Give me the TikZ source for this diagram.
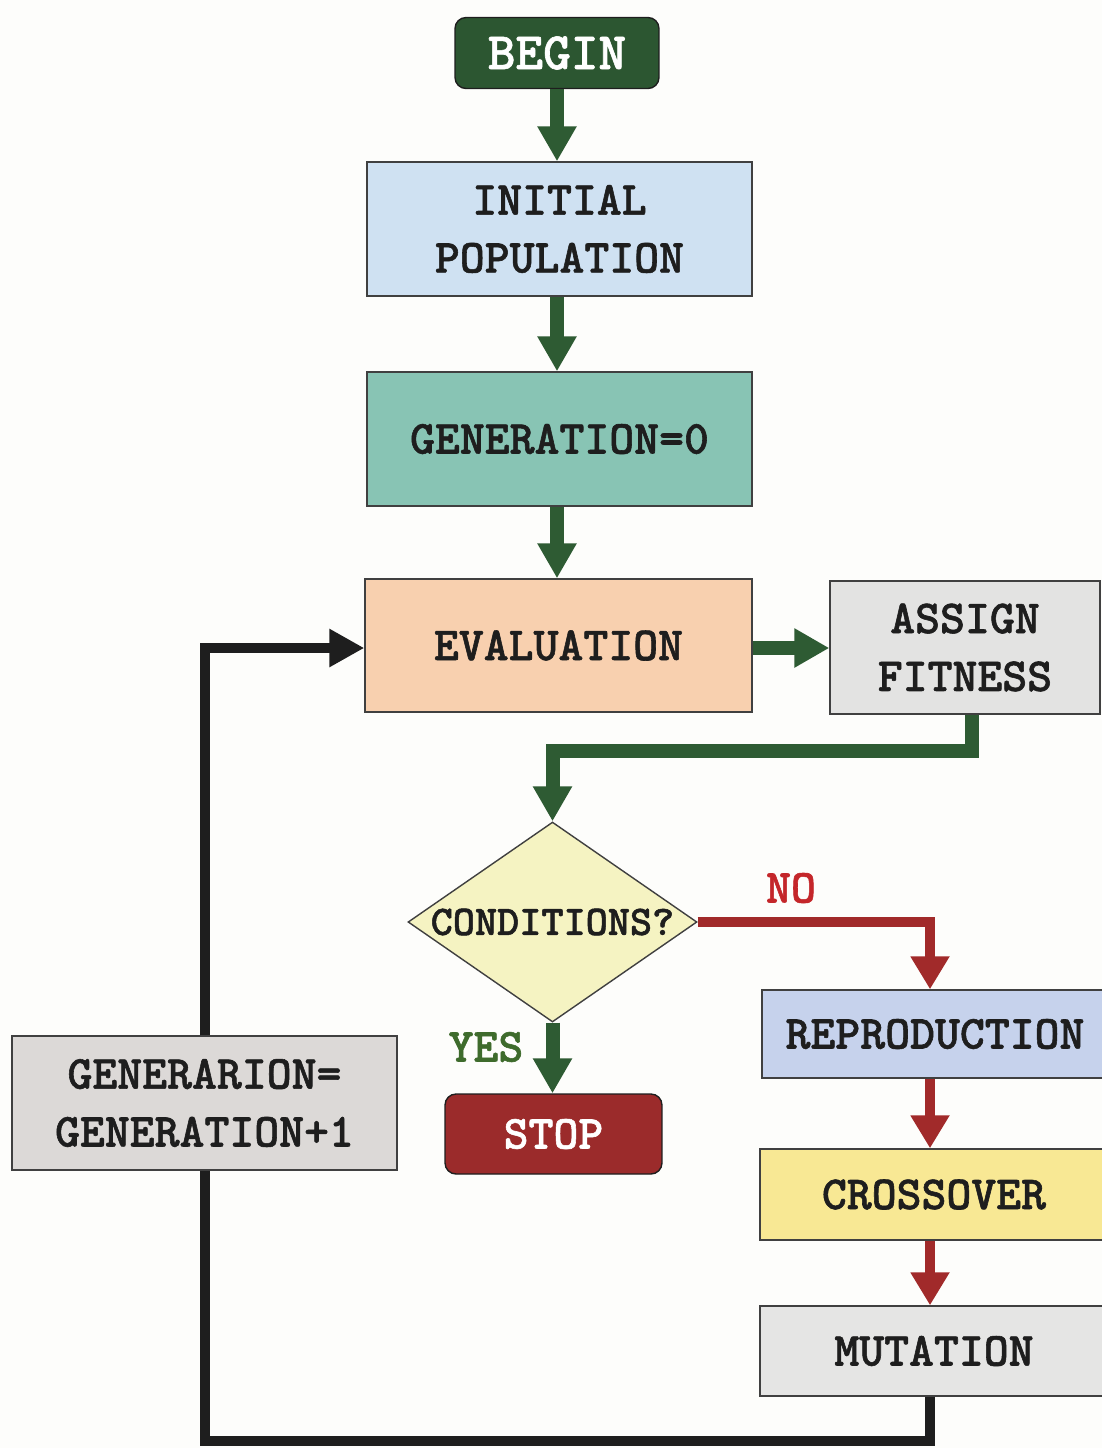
\documentclass[tikz,border=0pt]{standalone}
\usepackage{fontspec}
\usetikzlibrary{arrows.meta,shapes.geometric}

% heavy typewriter face for all labels
\newfontfamily\flowtt{lmmonolt10-bold.otf}[FakeBold=1.2]

% palette
\definecolor{bg}{HTML}{FDFDFB}
\definecolor{ink}{HTML}{1E1E1E}
\definecolor{flowgreen}{HTML}{2E5B33}
\definecolor{flowred}{HTML}{A12A2A}
\definecolor{beginfill}{HTML}{2C5631}
\definecolor{initfill}{HTML}{CFE1F2}
\definecolor{genfill}{HTML}{88C4B4}
\definecolor{evalfill}{HTML}{F8D0AF}
\definecolor{assignfill}{HTML}{E3E3E2}
\definecolor{condfill}{HTML}{F5F3C2}
\definecolor{stopfill}{HTML}{9B2B2B}
\definecolor{incfill}{HTML}{DCD9D7}
\definecolor{reprofill}{HTML}{C6D2EC}
\definecolor{crossfill}{HTML}{F8E894}
\definecolor{mutfill}{HTML}{E5E5E4}
\definecolor{nored}{HTML}{C4262A}
\definecolor{yesgreen}{HTML}{3E6B2C}

\newcommand\flowfont[1]{\fontsize{#1}{1.22\dimexpr#1pt\relax}\selectfont\flowtt}

\tikzset{
  box/.style={rectangle, draw=ink!85, line width=0.8pt, inner sep=0pt,
    align=center, text=ink, font=\flowfont{27}},
  terminal/.style={box, rounded corners=0.22cm, draw=ink},
  greenflow/.style={draw=flowgreen, line width=0.28cm,
    -{Triangle[width=0.74cm,length=0.7cm]}},
  redflow/.style={draw=flowred, line width=0.21cm,
    -{Triangle[width=0.74cm,length=0.66cm]}},
  loopline/.style={draw=ink, line width=0.2cm},
  looparrow/.style={loopline, -{Triangle[width=0.72cm,length=0.7cm]}},
}

\begin{document}
\begin{tikzpicture}[x=0.02cm, y=-0.02cm]
  \useasboundingbox (0,0) rectangle (1102,1448);
  \fill[bg] (0,0) rectangle (1102,1448);

  % main column
  \node[terminal, fill=beginfill, text=white, font=\flowfont{30},
        minimum width=4.08cm, minimum height=1.42cm] (begin) at (557,53) {BEGIN};
  \node[box, fill=initfill, minimum width=7.7cm, minimum height=2.68cm]
        (init) at (559.5,229) {INITIAL\\POPULATION};
  \node[box, fill=genfill, minimum width=7.7cm, minimum height=2.68cm]
        (gen0) at (559.5,439) {GENERATION=0};
  \node[box, fill=evalfill, minimum width=7.74cm, minimum height=2.66cm]
        (eval) at (558.5,645.5) {EVALUATION};
  \node[box, fill=assignfill, minimum width=5.4cm, minimum height=2.66cm]
        (assign) at (965,647.5) {ASSIGN\\FITNESS};

  % decision
  \node[diamond, draw=ink!85, line width=0.8pt, fill=condfill, inner sep=0pt,
        minimum width=5.78cm, minimum height=4cm] (cond) at (552.5,922) {};
  \node[text=ink, font=\flowfont{24}] (condtext) at (cond.center) {CONDITIONS?};

  \node[terminal, fill=stopfill, text=white, minimum width=4.34cm,
        minimum height=1.6cm] (stop) at (553.5,1134) {STOP};
  \node[box, fill=incfill, minimum width=7.7cm, minimum height=2.68cm]
        (genp1) at (204.5,1103) {GENERARION=\\GENERATION+1};

  % genetic operators
  \node[box, fill=reprofill, minimum width=6.92cm, minimum height=1.76cm]
        (repro) at (935,1034) {REPRODUCTION};
  \node[box, fill=crossfill, minimum width=6.96cm, minimum height=1.82cm]
        (cross) at (934,1194.5) {CROSSOVER};
  \node[box, fill=mutfill, minimum width=6.96cm, minimum height=1.8cm]
        (mut) at (934,1351) {MUTATION};

  % branch labels
  \node[text=nored, font=\flowfont{27}] (nolabel) at (791,888) {NO};
  \node[text=yesgreen, font=\flowfont{27}] (yeslabel) at (486,1047) {YES};

  % bends
  \coordinate (fitbend) at (cond.north |- 0,751);
  \coordinate (loopcorner) at (genp1.south |- 0,1441);

  % green flow
  \draw[greenflow] (begin.south) -- (begin.south |- init.north);
  \draw[greenflow] (init.south -| begin.south) -- (gen0.north -| begin.south);
  \draw[greenflow] (gen0.south -| begin.south) -- (eval.north -| begin.south);
  \draw[greenflow] (eval.east |- 0,648) -- (assign.west |- 0,648);
  \draw[greenflow] ([xshift=0.14cm]assign.south) |- (fitbend) -- (cond.north);
  \draw[greenflow] (cond.south) -- (cond.south |- stop.north);

  % red flow
  \draw[redflow] (cond.east) -| ([xshift=-0.1cm]repro.north);
  \draw[redflow] ([xshift=-0.1cm]repro.south) -- ([xshift=-0.1cm]repro.south |- cross.north);
  \draw[redflow] ([xshift=-0.1cm]repro.south |- cross.south) -- ([xshift=-0.1cm]repro.south |- mut.north);

  % feedback loop
  \draw[loopline] ([xshift=-0.08cm]mut.south) |- (loopcorner) -- (genp1.south);
  \draw[looparrow] (genp1.north) |- (eval.west |- 0,648);
\end{tikzpicture}
\end{document}
